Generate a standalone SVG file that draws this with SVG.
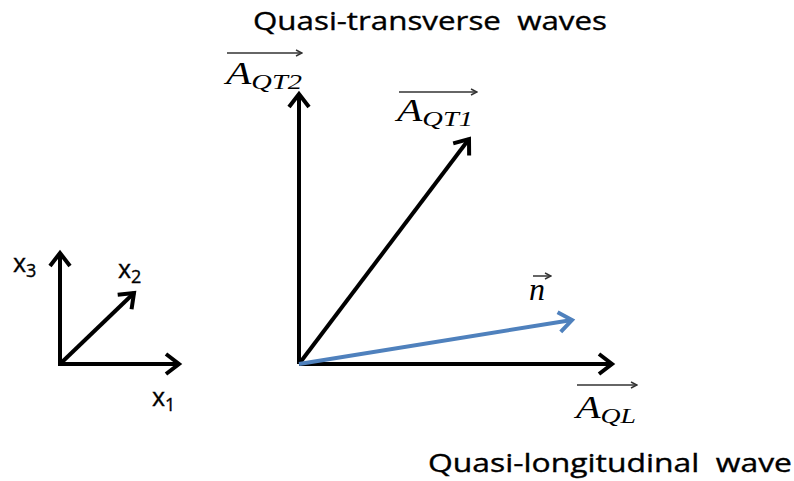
<svg xmlns="http://www.w3.org/2000/svg" width="794" height="481" viewBox="0 0 794 481">
<defs>
<style>
.ax{stroke:#000;stroke-width:4;fill:none}
.blue{stroke:#4F81BD;stroke-width:4;fill:none}
.lbl{font-family:"Open Sans","Liberation Sans",sans-serif;fill:#000;stroke:#000;stroke-width:0.35}
.math{font-family:"Liberation Serif","DejaVu Serif",serif;font-style:italic;fill:#000}
.ov{stroke:#333;stroke-width:1.5;fill:none}
</style>
<marker id="hb" markerUnits="userSpaceOnUse" viewBox="0 0 20 24" markerWidth="20" markerHeight="24" refX="16" refY="12" orient="auto">
<path d="M3,2 L16,12 L3,22" stroke="#000" stroke-width="4" fill="none" stroke-linejoin="miter"/>
</marker>
<marker id="hbl" markerUnits="userSpaceOnUse" viewBox="0 0 20 24" markerWidth="20" markerHeight="24" refX="16" refY="12" orient="auto">
<path d="M3,2 L16,12 L3,22" stroke="#4F81BD" stroke-width="4" fill="none"/>
</marker>
<marker id="hs" markerUnits="userSpaceOnUse" viewBox="0 0 8 8" markerWidth="8" markerHeight="8" refX="7" refY="4" orient="auto">
<path d="M1,1 L7,4 L1,7" stroke="#333" stroke-width="1.5" fill="none"/>
</marker>
</defs>
<rect width="794" height="481" fill="#fff"/>
<g id="connectors">
<line class="ax" x1="299" y1="364" x2="299" y2="94" marker-end="url(#hb)"/>
<line class="ax" x1="299" y1="364" x2="612" y2="364" marker-end="url(#hb)"/>
<line class="ax" x1="299" y1="364" x2="469" y2="139" marker-end="url(#hb)"/>
<line class="blue" x1="299" y1="364" x2="572" y2="320" marker-end="url(#hbl)"/>
<line class="ax" x1="60" y1="366" x2="60" y2="253" marker-end="url(#hb)"/>
<line class="ax" x1="58" y1="364" x2="179" y2="364" marker-end="url(#hb)"/>
<line class="ax" x1="60" y1="364" x2="134" y2="293" marker-end="url(#hb)"/>
</g>
<g id="title-qt">
<text class="lbl" x="253" y="30" font-size="25" textLength="354" lengthAdjust="spacingAndGlyphs" xml:space="preserve">Quasi-transverse  waves</text>
</g>
<g id="title-ql">
<text class="lbl" x="428" y="472" font-size="25" textLength="364" lengthAdjust="spacingAndGlyphs" xml:space="preserve">Quasi-longitudinal  wave</text>
</g>
<g id="label-AQT2">
<line class="ov" x1="227" y1="53" x2="302" y2="53" marker-end="url(#hs)"/>
<text class="math" x="226" y="84" font-size="32" textLength="76" lengthAdjust="spacingAndGlyphs">A<tspan font-size="22" dy="5">QT2</tspan></text>
</g>
<g id="label-AQT1">
<line class="ov" x1="399" y1="92" x2="477" y2="92" marker-end="url(#hs)"/>
<text class="math" x="397" y="121" font-size="32" textLength="76" lengthAdjust="spacingAndGlyphs">A<tspan font-size="22" dy="5">QT1</tspan></text>
</g>
<g id="label-n">
<line class="ov" x1="533" y1="276" x2="551" y2="276" marker-end="url(#hs)"/>
<text class="math" x="529" y="300" font-size="32">n</text>
</g>
<g id="label-AQL">
<line class="ov" x1="577" y1="385" x2="637" y2="385" marker-end="url(#hs)"/>
<text class="math" x="576" y="418" font-size="32" textLength="60" lengthAdjust="spacingAndGlyphs">A<tspan font-size="22" dy="5">QL</tspan></text>
</g>
<g id="label-x3">
<text class="lbl" x="13" y="272" font-size="25">x<tspan font-size="18" dy="5">3</tspan></text>
</g>
<g id="label-x2">
<text class="lbl" x="118" y="278" font-size="25">x<tspan font-size="18" dy="5">2</tspan></text>
</g>
<g id="label-x1">
<text class="lbl" x="152" y="406" font-size="25">x<tspan font-size="18" dy="5">1</tspan></text>
</g>
</svg>
